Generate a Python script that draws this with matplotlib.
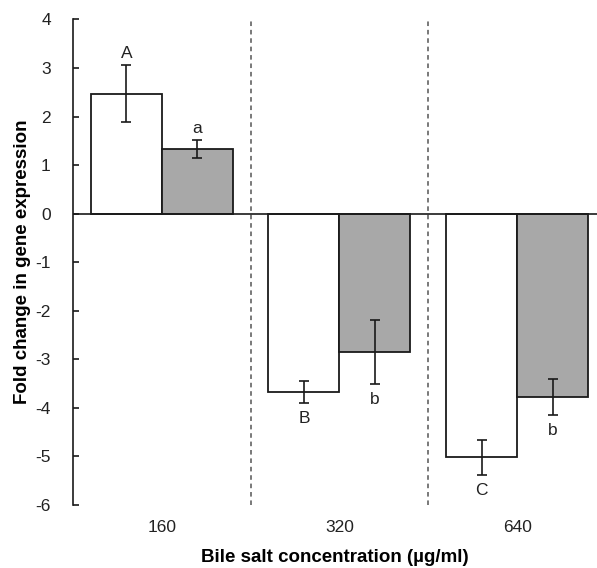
"""Fold change in gene expression under bile salt stress."""

import matplotlib.pyplot as plt
import numpy as np

plt.rcParams["font.family"] = ["Liberation Sans", "DejaVu Sans"]

concentrations = ["160", "320", "640"]
white_values = [2.47, -3.67, -5.02]
white_errors = [0.59, 0.22, 0.36]
gray_values = [1.33, -2.84, -3.77]
gray_errors = [0.18, 0.66, 0.37]
white_letters = ["A", "B", "C"]
gray_letters = ["a", "b", "b"]
y_ticks = [-6, -5, -4, -3, -2, -1, 0, 1, 2, 3, 4]

fig = plt.figure(figsize=(5.97, 5.68), dpi=100)
ax = fig.add_axes([0.1223, 0.111, 0.8777, 0.8547])

x = np.arange(len(concentrations))
width = 0.4
edge = "#1a1a1a"

ax.bar(x - width / 2, white_values, width, color="white", edgecolor=edge, linewidth=1.3, zorder=2)
ax.bar(x + width / 2, gray_values, width, color="#a8a8a8", edgecolor=edge, linewidth=1.3, zorder=2)
ax.errorbar(x - width / 2, white_values, yerr=white_errors, fmt="none", ecolor=edge,
            elinewidth=1.2, capsize=3.5, capthick=1.2, zorder=3)
ax.errorbar(x + width / 2, gray_values, yerr=gray_errors, fmt="none", ecolor=edge,
            elinewidth=1.2, capsize=3.5, capthick=1.2, zorder=3)

for xs, vals, errs, letters in [(x - width / 2, white_values, white_errors, white_letters),
                                (x + width / 2, gray_values, gray_errors, gray_letters)]:
    for xi, v, e, lab in zip(xs, vals, errs, letters):
        if v >= 0:
            ax.annotate(lab, (xi, v + e), xytext=(0, 3), textcoords="offset points",
                        ha="center", va="bottom", fontsize=12.5, color="#222222")
        else:
            ax.annotate(lab, (xi, v - e), xytext=(0, -6), textcoords="offset points",
                        ha="center", va="top", fontsize=12.5, color="#222222")

ax.axhline(0, color=edge, linewidth=1.2, zorder=4)
for xd in x[:-1] + 0.5:
    ax.axvline(xd, ymin=0, ymax=1, color="#555555", linestyle=(0, (3, 2.5)), linewidth=1.1, zorder=1)

ax.set_xlim(-0.5, 2.45)
ax.set_ylim(-6, 4)
ax.set_yticks(y_ticks)
ax.set_yticklabels([str(t) for t in y_ticks], fontsize=12.5, color="#222222")
ax.set_xticks(x)
ax.set_xticklabels(concentrations, fontsize=12.5, color="#222222")
ax.tick_params(axis="x", length=0, pad=11)
ax.tick_params(axis="y", direction="in", length=4, width=1.2, pad=16, color=edge)

for side in ("top", "right", "bottom"):
    ax.spines[side].set_visible(False)
ax.spines["left"].set_color(edge)
ax.spines["left"].set_linewidth(1.2)

ax.set_ylabel("Fold change in gene expression", fontsize=13.5, fontweight="bold", labelpad=3)
ax.set_xlabel("Bile salt concentration (µg/ml)", fontsize=13.5, fontweight="bold", labelpad=10)

fig.savefig("out.png", dpi=100)
